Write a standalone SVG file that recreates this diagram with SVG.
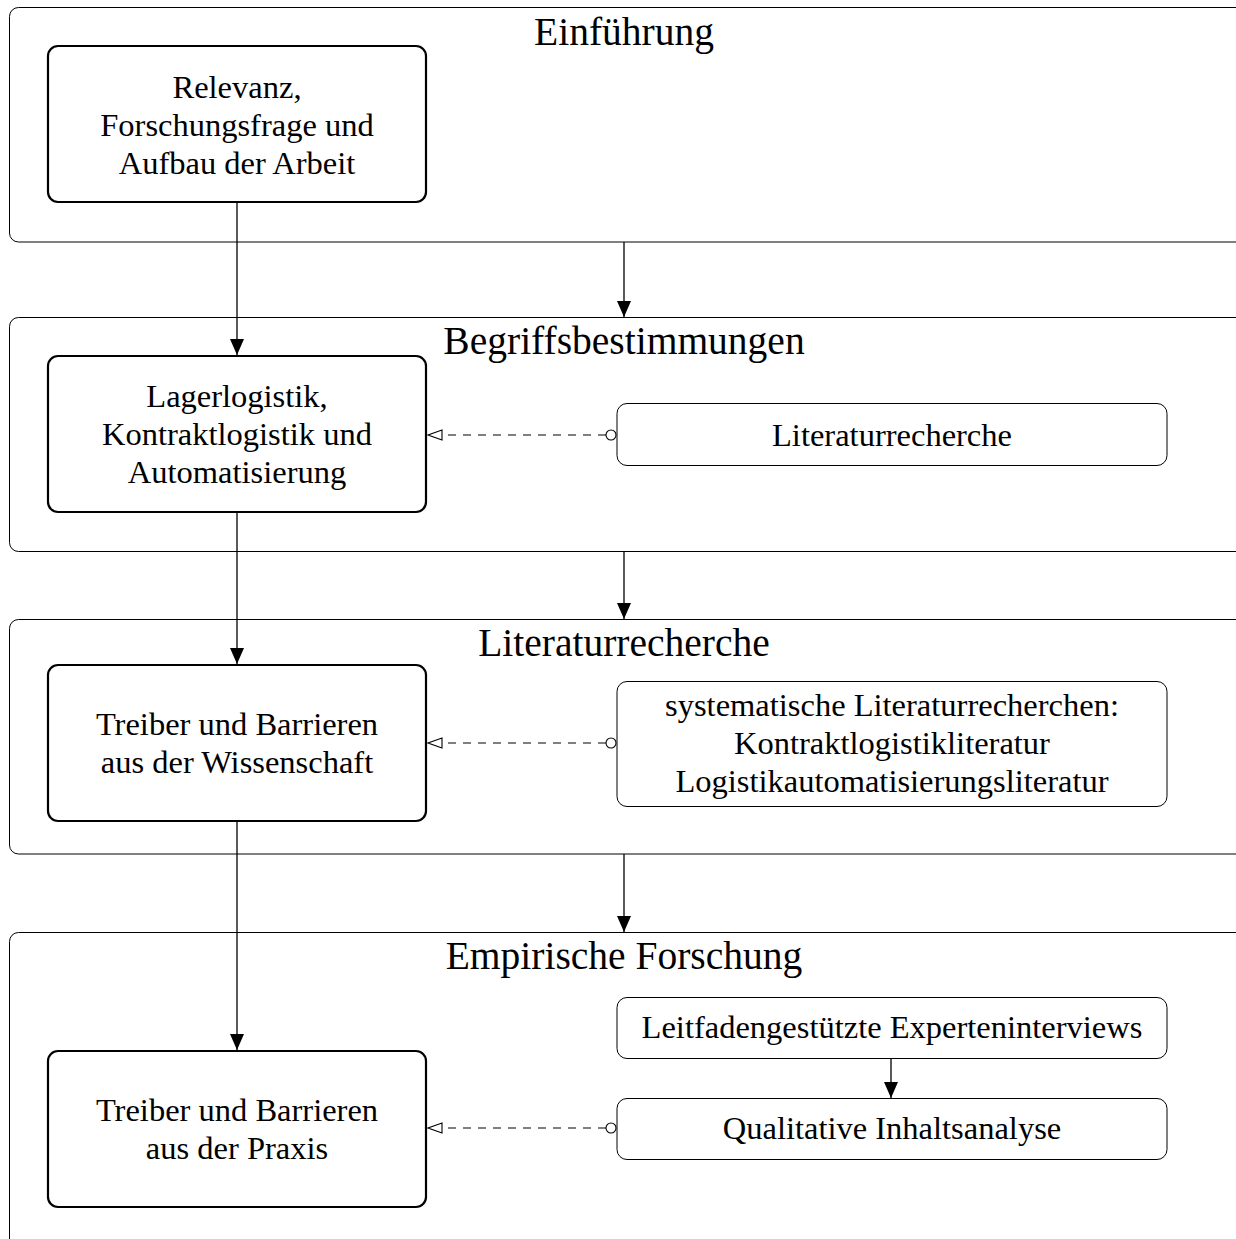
<svg xmlns="http://www.w3.org/2000/svg" width="1236" height="1239" viewBox="0 0 1236 1239">
<style>
.sec{fill:none;stroke:#000;stroke-width:1}
.main{fill:#fff;stroke:#000;stroke-width:2.2}
.aux{fill:#fff;stroke:#000;stroke-width:1}
.t{font-family:"Liberation Serif",serif;font-size:32.5px;text-anchor:middle;fill:#000}
.h{font-family:"Liberation Serif",serif;font-size:39.5px;text-anchor:middle;fill:#000}
.c{fill:none;stroke:#000;stroke-width:1.3}
.d{fill:none;stroke:#000;stroke-width:1.1;stroke-dasharray:8,7}
</style>
<defs>
<marker id="ah" viewBox="0 0 16 14" refX="16" refY="7" markerWidth="16" markerHeight="14" markerUnits="userSpaceOnUse" orient="auto"><path d="M0,0 L16,7 L0,14 z" fill="#000"/></marker>
<marker id="oh" viewBox="0 0 16 12" refX="15" refY="6" markerWidth="16" markerHeight="12" markerUnits="userSpaceOnUse" orient="auto"><path d="M1,1 L15,6 L1,11 z" fill="#fff" stroke="#000" stroke-width="1.1"/></marker>
</defs>
<rect width="1236" height="1239" fill="#fff"/>
<g id="sec1"><rect class="sec" x="9.5" y="7.5" width="1240" height="234.5" rx="9"/><text class="h" x="624" y="45">Einführung</text></g>
<g id="sec2"><rect class="sec" x="9.5" y="317.5" width="1240" height="234" rx="9"/><text class="h" x="624" y="354">Begriffsbestimmungen</text></g>
<g id="sec3"><rect class="sec" x="9.5" y="619.5" width="1240" height="234.5" rx="9"/><text class="h" x="624" y="656">Literaturrecherche</text></g>
<g id="sec4"><rect class="sec" x="9.5" y="932.5" width="1240" height="320" rx="9"/><text class="h" x="624" y="969">Empirische Forschung</text></g>
<g id="n1"><rect class="main" x="48" y="46" width="378" height="156" rx="10"/><text class="t" x="237" y="98">Relevanz,</text><text class="t" x="237" y="136">Forschungsfrage und</text><text class="t" x="237" y="174">Aufbau der Arbeit</text></g>
<g id="n2"><rect class="main" x="48" y="356" width="378" height="156" rx="10"/><text class="t" x="237" y="407">Lagerlogistik,</text><text class="t" x="237" y="445">Kontraktlogistik und</text><text class="t" x="237" y="483">Automatisierung</text></g>
<g id="n3"><rect class="main" x="48" y="665" width="378" height="156" rx="10"/><text class="t" x="237" y="735">Treiber und Barrieren</text><text class="t" x="237" y="773">aus der Wissenschaft</text></g>
<g id="n4"><rect class="main" x="48" y="1051" width="378" height="156" rx="10"/><text class="t" x="237" y="1121">Treiber und Barrieren</text><text class="t" x="237" y="1159">aus der Praxis</text></g>
<g id="n5"><rect class="aux" x="617" y="403.5" width="550" height="62" rx="10"/><text class="t" x="892" y="446">Literaturrecherche</text></g>
<g id="n6"><rect class="aux" x="617" y="681.5" width="550" height="125" rx="10"/><text class="t" x="892" y="716">systematische Literaturrecherchen:</text><text class="t" x="892" y="754">Kontraktlogistikliteratur</text><text class="t" x="892" y="792">Logistikautomatisierungsliteratur</text></g>
<g id="n7"><rect class="aux" x="617" y="997.5" width="550" height="61" rx="10"/><text class="t" x="892" y="1038">Leitfadengestützte Experteninterviews</text></g>
<g id="n8"><rect class="aux" x="617" y="1098.5" width="550" height="61" rx="10"/><text class="t" x="892" y="1139">Qualitative Inhaltsanalyse</text></g>
<g id="connectors">
<line class="c" x1="237" y1="203" x2="237" y2="355" marker-end="url(#ah)"/>
<line class="c" x1="237" y1="513" x2="237" y2="664" marker-end="url(#ah)"/>
<line class="c" x1="237" y1="822" x2="237" y2="1050" marker-end="url(#ah)"/>
<line class="c" x1="624" y1="242" x2="624" y2="317" marker-end="url(#ah)"/>
<line class="c" x1="624" y1="552" x2="624" y2="619" marker-end="url(#ah)"/>
<line class="c" x1="624" y1="854" x2="624" y2="932" marker-end="url(#ah)"/>
<line class="c" x1="891" y1="1058" x2="891" y2="1098" marker-end="url(#ah)"/>
<line class="d" x1="606" y1="435" x2="428" y2="435" marker-end="url(#oh)"/>
<line class="d" x1="606" y1="743" x2="428" y2="743" marker-end="url(#oh)"/>
<line class="d" x1="606" y1="1128" x2="428" y2="1128" marker-end="url(#oh)"/>
<circle cx="611" cy="435" r="5" fill="#fff" stroke="#000" stroke-width="1.1"/>
<circle cx="611" cy="743" r="5" fill="#fff" stroke="#000" stroke-width="1.1"/>
<circle cx="611" cy="1128" r="5" fill="#fff" stroke="#000" stroke-width="1.1"/>
</g>
</svg>
